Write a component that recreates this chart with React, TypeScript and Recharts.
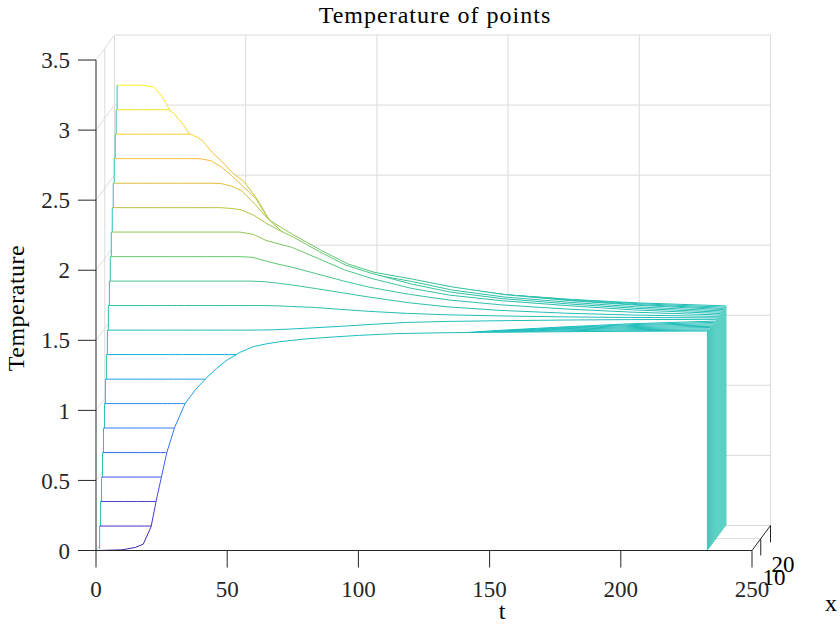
import { ComposedChart, Area, XAxis, YAxis, ReferenceLine } from 'recharts'

// sample times (t) shared by every point
const times = [1, 10, 15, 18, 21, 23, 25, 27, 30, 34, 38, 42, 46, 50, 55, 60, 65, 70, 80, 90, 100, 115, 130, 150, 175, 200, 233]

// point index (depth axis "x")
const points = [1, 2, 3, 4, 5, 6, 7, 8, 9, 10, 11, 12, 13, 14, 15, 16, 17, 18, 19, 20]

// temperature of each point, one row per point, one value per time
const temperature = [
  [0, 0.005, 0.022, 0.045, 0.17, 0.36, 0.53, 0.7, 0.88, 1.05, 1.15, 1.23, 1.3, 1.36, 1.415, 1.455, 1.475, 1.49, 1.51, 1.523, 1.535, 1.548, 1.553, 1.557, 1.561, 1.564, 1.566],
  [0.165, 0.165, 0.165, 0.165, 0.165, 0.25, 0.4, 0.58, 0.78, 0.97, 1.08, 1.17, 1.24, 1.3, 1.36, 1.4, 1.43, 1.45, 1.475, 1.49, 1.505, 1.52, 1.53, 1.54, 1.55, 1.558, 1.564],
  [0.331, 0.331, 0.331, 0.331, 0.331, 0.331, 0.42, 0.55, 0.72, 0.9, 1.02, 1.11, 1.19, 1.25, 1.31, 1.36, 1.4, 1.42, 1.455, 1.475, 1.49, 1.51, 1.525, 1.537, 1.548, 1.556, 1.563],
  [0.496, 0.496, 0.496, 0.496, 0.496, 0.496, 0.496, 0.55, 0.68, 0.84, 0.96, 1.06, 1.14, 1.2, 1.27, 1.32, 1.36, 1.39, 1.43, 1.455, 1.475, 1.5, 1.515, 1.53, 1.545, 1.554, 1.563],
  [0.661, 0.661, 0.661, 0.661, 0.661, 0.661, 0.661, 0.661, 0.7, 0.8, 0.91, 1.01, 1.09, 1.16, 1.23, 1.28, 1.32, 1.355, 1.4, 1.435, 1.46, 1.49, 1.505, 1.522, 1.54, 1.552, 1.562],
  [0.827, 0.827, 0.827, 0.827, 0.827, 0.827, 0.827, 0.827, 0.827, 0.85, 0.91, 0.98, 1.05, 1.12, 1.19, 1.25, 1.29, 1.33, 1.38, 1.415, 1.445, 1.475, 1.495, 1.515, 1.535, 1.55, 1.562],
  [0.992, 0.992, 0.992, 0.992, 0.992, 0.992, 0.992, 0.992, 0.992, 0.992, 1.0, 1.03, 1.07, 1.11, 1.17, 1.22, 1.26, 1.3, 1.355, 1.395, 1.43, 1.46, 1.485, 1.508, 1.53, 1.548, 1.562],
  [1.157, 1.157, 1.157, 1.157, 1.157, 1.157, 1.157, 1.157, 1.157, 1.157, 1.157, 1.157, 1.165, 1.18, 1.2, 1.23, 1.26, 1.285, 1.33, 1.37, 1.405, 1.445, 1.475, 1.5, 1.525, 1.545, 1.562],
  [1.323, 1.323, 1.323, 1.323, 1.323, 1.323, 1.323, 1.323, 1.323, 1.323, 1.323, 1.323, 1.323, 1.323, 1.323, 1.325, 1.33, 1.34, 1.36, 1.385, 1.41, 1.44, 1.47, 1.495, 1.52, 1.542, 1.562],
  [1.488, 1.488, 1.488, 1.488, 1.488, 1.488, 1.488, 1.488, 1.488, 1.488, 1.488, 1.488, 1.488, 1.488, 1.488, 1.489, 1.491, 1.495, 1.505, 1.515, 1.527, 1.543, 1.55, 1.555, 1.56, 1.563, 1.565],
  [1.654, 1.654, 1.654, 1.654, 1.654, 1.654, 1.654, 1.654, 1.654, 1.654, 1.654, 1.654, 1.654, 1.654, 1.654, 1.654, 1.652, 1.648, 1.64, 1.626, 1.613, 1.598, 1.588, 1.58, 1.573, 1.569, 1.566],
  [1.819, 1.819, 1.819, 1.819, 1.819, 1.819, 1.819, 1.819, 1.819, 1.819, 1.819, 1.819, 1.819, 1.819, 1.819, 1.815, 1.805, 1.793, 1.765, 1.735, 1.705, 1.665, 1.635, 1.61, 1.59, 1.577, 1.567],
  [1.984, 1.984, 1.984, 1.984, 1.984, 1.984, 1.984, 1.984, 1.984, 1.984, 1.984, 1.984, 1.984, 1.984, 1.98, 1.955, 1.93, 1.91, 1.86, 1.81, 1.765, 1.715, 1.675, 1.64, 1.61, 1.588, 1.568],
  [2.15, 2.15, 2.15, 2.15, 2.15, 2.15, 2.15, 2.15, 2.15, 2.15, 2.15, 2.15, 2.15, 2.15, 2.135, 2.09, 2.065, 2.04, 1.96, 1.88, 1.82, 1.75, 1.7, 1.66, 1.625, 1.595, 1.569],
  [2.315, 2.315, 2.315, 2.315, 2.315, 2.315, 2.315, 2.315, 2.315, 2.315, 2.315, 2.315, 2.31, 2.3, 2.26, 2.2, 2.15, 2.105, 2.0, 1.905, 1.845, 1.77, 1.712, 1.665, 1.628, 1.597, 1.569],
  [2.48, 2.48, 2.48, 2.48, 2.48, 2.48, 2.48, 2.48, 2.48, 2.48, 2.48, 2.478, 2.46, 2.425, 2.33, 2.225, 2.14, 2.07, 1.965, 1.875, 1.828, 1.778, 1.718, 1.668, 1.63, 1.598, 1.569],
  [2.646, 2.646, 2.646, 2.646, 2.646, 2.646, 2.646, 2.646, 2.646, 2.645, 2.63, 2.585, 2.52, 2.45, 2.36, 2.21, 2.15, 2.095, 1.99, 1.895, 1.835, 1.785, 1.73, 1.675, 1.632, 1.6, 1.569],
  [2.811, 2.811, 2.811, 2.811, 2.811, 2.811, 2.811, 2.811, 2.811, 2.77, 2.68, 2.61, 2.53, 2.475, 2.35, 2.19, 2.12, 2.065, 1.96, 1.875, 1.82, 1.77, 1.715, 1.665, 1.625, 1.595, 1.568],
  [2.976, 2.976, 2.976, 2.976, 2.976, 2.95, 2.905, 2.86, 2.77, 2.68, 2.6, 2.52, 2.45, 2.38, 2.28, 2.16, 2.09, 2.03, 1.93, 1.85, 1.795, 1.75, 1.7, 1.655, 1.62, 1.592, 1.567],
  [3.142, 3.142, 3.13, 3.065, 2.965, 2.9, 2.84, 2.78, 2.7, 2.6, 2.52, 2.44, 2.37, 2.3, 2.21, 2.11, 2.04, 1.99, 1.9, 1.825, 1.775, 1.73, 1.685, 1.645, 1.612, 1.588, 1.567],
]

const tTicks = [0, 50, 100, 150, 200, 250]
const tempTicks = [0, 0.5, 1, 1.5, 2, 2.5, 3, 3.5]
const depthTicks = [10, 20]

// parula-like colormap, fraction of colour range -> colour
const colorStops: [number, string][] = [
  [0, '#3e26a8'],
  [0.08, '#4536d0'],
  [0.16, '#4453ec'],
  [0.24, '#3671f8'],
  [0.31, '#2a8bec'],
  [0.37, '#1fa3e0'],
  [0.42, '#0db3d8'],
  [0.47, '#17bcc6'],
  [0.53, '#2dbfa8'],
  [0.58, '#44c48e'],
  [0.63, '#62c76c'],
  [0.68, '#90c753'],
  [0.74, '#bcc23f'],
  [0.79, '#e0bc3c'],
  [0.84, '#f8be36'],
  [0.9, '#fbd02c'],
  [0.95, '#f5e326'],
  [1, '#f9f513'],
]

const W = 840
const H = 630
const MARGIN = { top: 35, right: 69.5, bottom: 19.5, left: 16 }
const Y_AXIS_W = 80
const X_AXIS_H = 60
const PLOT_H = H - MARGIN.top - MARGIN.bottom - X_AXIS_H

const T_MAX = 250
const TEMP_MAX = 3.5
// oblique view: how far the back of the box (x = 20) moves in t and in temperature
const DEPTH_T = 7.05
const DEPTH_V = 0.1786
const X_DOMAIN = T_MAX + DEPTH_T
const Y_DOMAIN = TEMP_MAX + DEPTH_V

const INK = '#262626'
const GRID = '#dcdcdc'
const EDGE = '#2bc2b4'
const FONT = "'Liberation Serif', 'Times New Roman', serif"

const allTemps = temperature.flat()
const cMin = Math.min(...allTemps)
const cMax = Math.max(...allTemps)

const depthFrac = (x: number) => (x - points[0]) / (points[points.length - 1] - points[0])
const pixelY = (v: number) => MARGIN.top + ((Y_DOMAIN - v) / Y_DOMAIN) * PLOT_H

type Pt = { t: number; v: number }
const seg = (a: Pt, b: Pt) => [
  { x: a.t, y: a.v },
  { x: b.t, y: b.v },
]

// box lines and grid of the three back walls
function boxLines() {
  const lines: { key: string; s: any; color: string }[] = []
  const back = depthFrac(points[points.length - 1])
  tempTicks.forEach((v) => {
    lines.push({ key: `bw-h-${v}`, s: seg({ t: back * DEPTH_T, v: v + DEPTH_V }, { t: T_MAX + DEPTH_T, v: v + DEPTH_V }), color: GRID })
    lines.push({ key: `lw-d-${v}`, s: seg({ t: 0, v }, { t: DEPTH_T, v: v + DEPTH_V }), color: GRID })
  })
  tTicks.forEach((t) => {
    lines.push({ key: `bw-v-${t}`, s: seg({ t: t + DEPTH_T, v: DEPTH_V }, { t: t + DEPTH_T, v: TEMP_MAX + DEPTH_V }), color: GRID })
    if (t < T_MAX) lines.push({ key: `fl-d-${t}`, s: seg({ t, v: 0 }, { t: t + DEPTH_T, v: DEPTH_V }), color: GRID })
  })
  depthTicks.forEach((x) => {
    const f = depthFrac(x)
    lines.push({ key: `lw-v-${x}`, s: seg({ t: f * DEPTH_T, v: f * DEPTH_V }, { t: f * DEPTH_T, v: TEMP_MAX + f * DEPTH_V }), color: GRID })
    lines.push({ key: `fl-h-${x}`, s: seg({ t: f * DEPTH_T, v: f * DEPTH_V }, { t: T_MAX + f * DEPTH_T, v: f * DEPTH_V }), color: GRID })
  })
  return lines
}

function axisLines() {
  const lines: { key: string; s: any; color: string }[] = [
    { key: 'ax-t', s: seg({ t: 0, v: 0 }, { t: T_MAX, v: 0 }), color: INK },
    { key: 'ax-v', s: seg({ t: 0, v: 0 }, { t: 0, v: TEMP_MAX }), color: INK },
    { key: 'ax-x', s: seg({ t: T_MAX, v: 0 }, { t: T_MAX + DEPTH_T, v: DEPTH_V }), color: INK },
  ]
  depthTicks.forEach((x) => {
    const f = depthFrac(x)
    lines.push({ key: `ax-xt-${x}`, s: seg({ t: T_MAX + f * DEPTH_T, v: f * DEPTH_V }, { t: T_MAX + f * DEPTH_T, v: f * DEPTH_V - 0.12 }), color: INK })
  })
  return lines
}

function Caption({ text, x, y, size = 24, rotate = 0, spacing = 0 }: { text: string; x: number; y: number; size?: number; rotate?: number; spacing?: number }) {
  return (
    <div
      style={{
        position: 'absolute',
        left: x,
        top: y,
        transform: `translate(-50%, -50%) rotate(${rotate}deg)`,
        whiteSpace: 'nowrap',
        fontFamily: FONT,
        fontSize: size,
        lineHeight: `${size}px`,
        letterSpacing: spacing,
        color: '#000',
      }}
    >
      {text}
    </div>
  )
}

export default function App() {
  const tickStyle = { fontSize: 23, fontFamily: FONT, fill: INK }

  // draw back to front so the white faces hide what lies behind them
  const curves = [...points].reverse().flatMap((x) => {
    const row = temperature[x - 1]
    const f = depthFrac(x)
    const base = f * DEPTH_V
    const face = times.map((t, j) => ({ t: t + f * DEPTH_T, v: row[j] + base }))
    const first = face[0]
    const last = face[face.length - 1]
    const common = { type: 'linear' as const, dataKey: 'v', baseValue: base, isAnimationActive: false, dot: false, activeDot: false, legendType: 'none' as const }
    return [
      <Area key={`face-${x}`} {...common} data={face} stroke={`url(#grad-${x})`} strokeWidth={1} fill="#ffffff" fillOpacity={1} />,
      <Area key={`left-${x}`} {...common} data={[{ t: first.t, v: base }, first]} stroke={EDGE} strokeWidth={1} fill="none" />,
      <Area key={`right-${x}`} {...common} data={[last, { t: last.t, v: base }]} stroke={EDGE} strokeWidth={1} fill="none" />,
    ]
  })

  return (
    <div style={{ position: 'absolute', left: 0, top: 0, width: W, height: H, background: '#fff' }}>
      <ComposedChart width={W} height={H} margin={MARGIN}>
        <defs>
          {points.map((x) => {
            const base = depthFrac(x) * DEPTH_V
            return (
              <linearGradient key={x} id={`grad-${x}`} gradientUnits="userSpaceOnUse" x1={0} x2={0} y1={pixelY(base + cMin)} y2={pixelY(base + cMax)}>
                {colorStops.map(([o, c]) => (
                  <stop key={o} offset={o} stopColor={c} />
                ))}
              </linearGradient>
            )
          })}
        </defs>
        <XAxis
          dataKey="t"
          type="number"
          domain={[0, X_DOMAIN]}
          ticks={tTicks}
          interval={0}
          axisLine={false}
          tickLine={{ stroke: INK }}
          tickSize={17}
          tickMargin={13}
          tick={tickStyle}
          height={X_AXIS_H}
        />
        <YAxis
          type="number"
          domain={[0, Y_DOMAIN]}
          ticks={tempTicks}
          interval={0}
          axisLine={false}
          tickLine={{ stroke: INK }}
          tickSize={18}
          tickMargin={8}
          tick={tickStyle}
          width={Y_AXIS_W}
        />
        {boxLines().map((l) => (
          <ReferenceLine key={l.key} segment={l.s} stroke={l.color} strokeWidth={1} ifOverflow="visible" zIndex={-100} />
        ))}
        {curves}
        {axisLines().map((l) => (
          <ReferenceLine key={l.key} segment={l.s} stroke={l.color} strokeWidth={1} ifOverflow="visible" zIndex={900} />
        ))}
      </ComposedChart>
      <Caption text="Temperature of points" x={435} y={15} spacing={1} />
      <Caption text="t" x={502} y={611} />
      <Caption text="x" x={831} y={603} />
      <Caption text="Temperature" x={16} y={308} rotate={-90} spacing={0.5} />
      <Caption text="10" x={774} y={577} size={23} />
      <Caption text="20" x={783} y={564} size={23} />
    </div>
  )
}
